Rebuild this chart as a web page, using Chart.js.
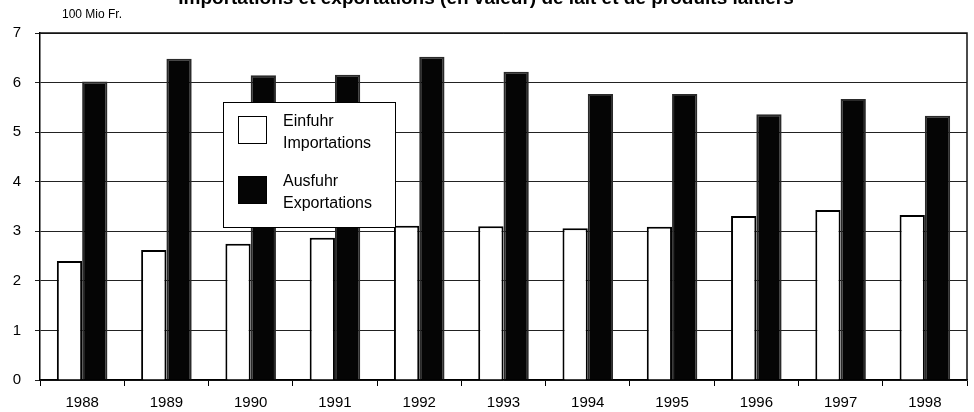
<!DOCTYPE html>
<html>
<head>
<meta charset="utf-8">
<script src="https://cdn.jsdelivr.net/npm/chart.js@4/dist/chart.umd.min.js"></script>
<style>
  html, body { margin: 0; padding: 0; background: #fff; }
  #wrap { width: 974px; height: 412px; }
</style>
</head>
<body>
<div id="wrap"><canvas id="milchChart" width="974" height="412"></canvas></div>
<script>
// Jahre und Werte (100 Mio Fr.)
const jahre = ['1988', '1989', '1990', '1991', '1992', '1993', '1994', '1995', '1996', '1997', '1998'];
const einfuhr = [2.40, 2.62, 2.75, 2.87, 3.11, 3.10, 3.06, 3.09, 3.31, 3.43, 3.33];
const ausfuhr = [6.02, 6.48, 6.15, 6.16, 6.52, 6.22, 5.77, 5.77, 5.36, 5.67, 5.33];
const yTicks = [0, 1, 2, 3, 4, 5, 6, 7];

const titel = 'Importations et exportations (en valeur) de lait et de produits laitiers';
const einheit = '100 Mio Fr.';
const legendeTexte = [['Einfuhr', 'Importations'], ['Ausfuhr', 'Exportations']];

const FONT = '"Liberation Sans", Arial, sans-serif';

// Titel (oben angeschnitten), Einheit, Rahmen und Legende
const extras = {
    id: 'extras',
    afterDraw(chart) {
        const ctx = chart.ctx;
        const a = chart.chartArea;
        ctx.save();

        ctx.fillStyle = '#000';
        ctx.font = 'bold 19px ' + FONT;
        ctx.textAlign = 'center';
        ctx.textBaseline = 'alphabetic';
        ctx.fillText(titel, 486, 4);

        ctx.font = '12px ' + FONT;
        ctx.textAlign = 'left';
        ctx.textBaseline = 'middle';
        ctx.fillText(einheit, 62, 15);

        // Rahmen rechts und oben
        ctx.strokeStyle = '#111';
        ctx.lineWidth = 1.5;
        ctx.beginPath();
        ctx.moveTo(a.left, a.top);
        ctx.lineTo(a.right, a.top);
        ctx.lineTo(a.right, a.bottom);
        ctx.stroke();

        // Legende
        const lx = 223, ly = 102, lw = 172, lh = 125;
        ctx.fillStyle = '#fff';
        ctx.fillRect(lx, ly, lw, lh);
        ctx.lineWidth = 1;
        ctx.strokeStyle = '#000';
        ctx.strokeRect(lx + 0.5, ly + 0.5, lw, lh);

        chart.data.datasets.forEach((ds, i) => {
            const by = ly + 14 + i * 60;
            ctx.fillStyle = ds.backgroundColor;
            ctx.fillRect(lx + 15, by, 28, 27);
            ctx.strokeStyle = '#000';
            ctx.strokeRect(lx + 15.5, by + 0.5, 28, 27);
            ctx.fillStyle = '#000';
            ctx.font = '16px ' + FONT;
            ctx.textAlign = 'left';
            ctx.textBaseline = 'middle';
            ctx.fillText(legendeTexte[i][0], lx + 60, by + 6);
            ctx.fillText(legendeTexte[i][1], lx + 60, by + 28);
        });

        ctx.restore();
    }
};

new Chart(document.getElementById('milchChart'), {
    type: 'bar',
    data: {
        labels: jahre,
        datasets: [
            {
                label: 'Einfuhr',
                data: einfuhr,
                backgroundColor: '#ffffff',
                borderColor: '#000',
                borderWidth: 2
            },
            {
                label: 'Ausfuhr',
                data: ausfuhr,
                backgroundColor: '#050505',
                borderColor: '#2a2a2a',
                borderWidth: 2
            }
        ]
    },
    options: {
        responsive: false,
        animation: false,
        devicePixelRatio: 1,
        layout: { padding: { top: 33, right: 7, left: 0, bottom: 0 } },
        datasets: {
            bar: { categoryPercentage: 0.6, barPercentage: 1.0 }
        },
        plugins: {
            legend: { display: false },
            title: { display: false },
            tooltip: { enabled: false }
        },
        scales: {
            x: {
                offset: true,
                grid: {
                    offset: true,
                    drawOnChartArea: false,
                    drawTicks: true,
                    tickLength: 6,
                    color: '#000',
                    lineWidth: 1
                },
                border: { display: true, color: '#000', width: 1.5 },
                ticks: {
                    color: '#000',
                    font: { family: FONT, size: 15 },
                    padding: 8,
                    maxRotation: 0
                },
                afterFit(s) { s.height = 32; }
            },
            y: {
                min: 0,
                max: 7,
                afterBuildTicks(s) { s.ticks = yTicks.map(v => ({ value: v })); },
                grid: {
                    color: '#222',
                    lineWidth: 1,
                    drawTicks: true,
                    tickLength: 5
                },
                border: { display: true, color: '#000', width: 1.5 },
                ticks: {
                    color: '#000',
                    font: { family: FONT, size: 15 },
                    padding: 14
                },
                afterFit(s) { s.width = 40; }
            }
        }
    },
    plugins: [extras]
});
</script>
</body>
</html>
